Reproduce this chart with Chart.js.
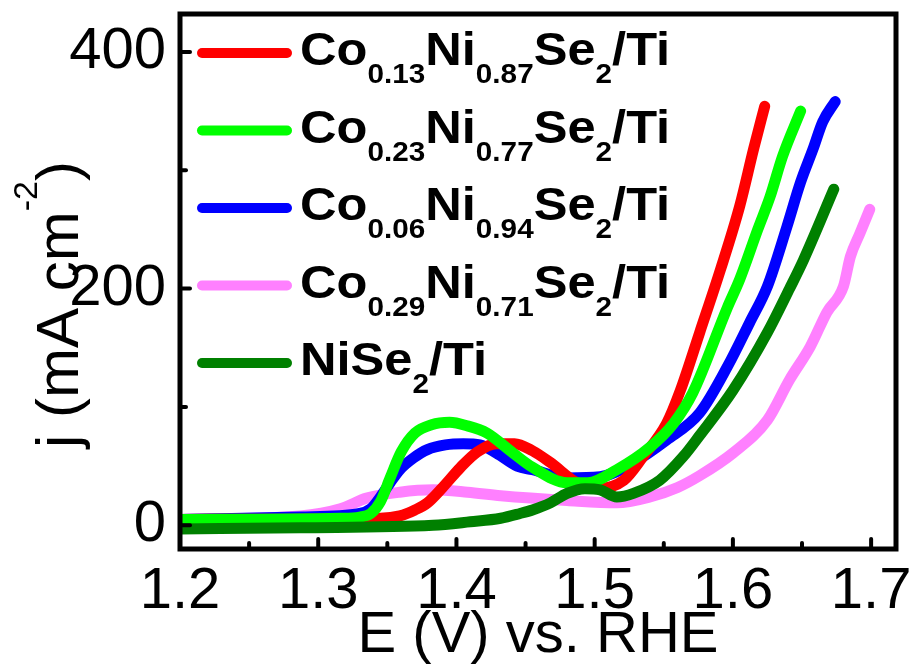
<!DOCTYPE html>
<html>
<head>
<meta charset="utf-8">
<script src="https://cdn.jsdelivr.net/npm/chart.js@4.4.1/dist/chart.umd.min.js"></script>
<style>
  html, body { margin: 0; padding: 0; background: #fff; }
  #wrap { width: 915px; height: 666px; }
</style>
</head>
<body>
<div id="wrap"><canvas id="lsv" width="915" height="666"></canvas></div>
<script>
const FONT = "'Liberation Sans', Arial, sans-serif";

// series names (legend), colours
const seriesNames = ['Co0.13Ni0.87Se2/Ti', 'Co0.23Ni0.77Se2/Ti', 'Co0.06Ni0.94Se2/Ti', 'Co0.29Ni0.71Se2/Ti', 'NiSe2/Ti'];
const seriesColors = ['#ff0000', '#00ff00', '#0000ff', '#ff80ff', '#008000'];

// E (V vs RHE) and j (mA cm-2)
const eRed = [1.2, 1.345, 1.359, 1.370, 1.379, 1.390, 1.403, 1.415, 1.429, 1.442, 1.455, 1.468, 1.487, 1.502, 1.521, 1.535, 1.552, 1.562, 1.576, 1.591, 1.605, 1.615, 1.623];
const jRed = [5, 6, 8, 13, 19, 32, 49, 62, 69, 69, 63, 53, 36, 31, 38, 58, 86, 114, 163, 216, 270, 318, 354];

const eLime = [1.2, 1.316, 1.330, 1.338, 1.345, 1.352, 1.360, 1.370, 1.382, 1.395, 1.408, 1.422, 1.441, 1.455, 1.480, 1.495, 1.516, 1.540, 1.557, 1.571, 1.596, 1.605, 1.618, 1.627, 1.636, 1.649];
const jLime = [5, 6, 7, 10, 20, 40, 62, 78, 85, 87, 84, 78, 61, 49, 36, 36, 47, 66, 86, 112, 184, 208, 250, 278, 312, 350];

const eBlue = [1.2, 1.287, 1.330, 1.338, 1.345, 1.352, 1.359, 1.369, 1.379, 1.392, 1.405, 1.417, 1.429, 1.444, 1.455, 1.480, 1.504, 1.528, 1.552, 1.576, 1.596, 1.612, 1.625, 1.639, 1.649, 1.658, 1.665, 1.674];
const jBlue = [5, 7, 10, 14, 24, 36, 47, 57, 64, 68, 69, 68, 61, 50, 47, 40, 41, 53, 72, 95, 134, 171, 202, 252, 290, 318, 341, 358];

const ePink = [1.2, 1.287, 1.316, 1.335, 1.359, 1.383, 1.408, 1.432, 1.480, 1.516, 1.540, 1.560, 1.576, 1.600, 1.625, 1.641, 1.656, 1.668, 1.680, 1.685, 1.692, 1.699];
const jPink = [5, 8, 14, 23, 28, 30, 28, 25, 21, 19, 24, 32, 42, 61, 89, 123, 151, 180, 202, 227, 247, 267];

const eDark = [1.2, 1.287, 1.383, 1.410, 1.432, 1.446, 1.455, 1.468, 1.480, 1.493, 1.504, 1.516, 1.528, 1.547, 1.564, 1.576, 1.600, 1.625, 1.641, 1.651, 1.673];
const jDark = [-3, -2, 0, 3, 6, 10, 13, 19, 27, 31, 30, 24, 27, 38, 58, 76, 114, 163, 200, 224, 284];

// axes
const xMajorTicks = [1.2, 1.3, 1.4, 1.5, 1.6, 1.7];
const xMinorTicks = [1.25, 1.35, 1.45, 1.55, 1.65];
const yMajorTicks = [0, 200, 400];
const yMinorTicks = [100, 300];

const seriesE = [eRed, eLime, eBlue, ePink, eDark];
const seriesJ = [jRed, jLime, jBlue, jPink, jDark];
const drawOrder = [2, 1, 3, 4, 0]; // lower = drawn on top

const datasets = seriesNames.map((name, i) => ({
  label: name,
  data: seriesE[i].map((e, k) => ({ x: e, y: seriesJ[i][k] })),
  borderColor: seriesColors[i],
  backgroundColor: seriesColors[i],
  borderWidth: 11,
  borderCapStyle: 'round',
  borderJoinStyle: 'round',
  pointRadius: 0,
  cubicInterpolationMode: 'monotone',
  order: drawOrder[i]
}));

// frame, inward ticks, axis titles and legend with subscripts
const decorations = {
  id: 'decorations',
  afterDraw(chart) {
    const { ctx, chartArea: a, scales: { x, y } } = chart;
    ctx.save();
    ctx.strokeStyle = '#000';
    ctx.lineCap = 'round';
    ctx.lineWidth = 4;
    const tick = (px, py, dx, dy) => {
      ctx.beginPath(); ctx.moveTo(px, py); ctx.lineTo(px + dx, py + dy); ctx.stroke();
    };
    xMajorTicks.forEach(v => tick(x.getPixelForValue(v), a.bottom, 0, -10));
    xMinorTicks.forEach(v => tick(x.getPixelForValue(v), a.bottom, 0, -6));
    yMajorTicks.forEach(v => tick(a.left, y.getPixelForValue(v), 10, 0));
    yMinorTicks.forEach(v => tick(a.left, y.getPixelForValue(v), 6, 0));

    ctx.lineCap = 'butt';
    ctx.lineWidth = 5;
    ctx.strokeRect(a.left, a.top, a.right - a.left, a.bottom - a.top);

    // legend
    chart.data.datasets.forEach((ds, i) => {
      const yy = a.top + 39 + i * 77.5;
      ctx.save();
      ctx.strokeStyle = ds.borderColor;
      ctx.lineWidth = 10;
      ctx.lineCap = 'round';
      ctx.beginPath();
      ctx.moveTo(a.left + 22, yy);
      ctx.lineTo(a.left + 107, yy);
      ctx.stroke();
      ctx.translate(a.left + 120, yy + 12);
      ctx.scale(1.1, 1);
      ctx.fillStyle = '#000';
      ctx.textBaseline = 'alphabetic';
      let cx = 0;
      ds.label.split(/(\d+(?:\.\d+)?)/).forEach((part, k) => {
        if (!part) return;
        const sub = k % 2 === 1;
        ctx.font = sub ? 'bold 27px ' + FONT : 'bold 46px ' + FONT;
        ctx.fillText(part, cx, sub ? 18 : 0);
        cx += ctx.measureText(part).width;
      });
      ctx.restore();
    });

    // x title
    ctx.fillStyle = '#000';
    ctx.font = '58px ' + FONT;
    ctx.textAlign = 'center';
    ctx.textBaseline = 'alphabetic';
    ctx.fillText('E (V) vs. RHE', (a.left + a.right) / 2, 652);

    // y title with superscript
    const parts = [['j (mA cm', 60, 0], ['-2', 34, -41], [')', 60, 0]];
    let total = 0;
    parts.forEach(p => { ctx.font = p[1] + 'px ' + FONT; total += ctx.measureText(p[0]).width; });
    ctx.translate(78, (a.top + a.bottom) / 2 + 23);
    ctx.rotate(-Math.PI / 2);
    ctx.textAlign = 'left';
    let tx = -total / 2;
    parts.forEach(p => {
      ctx.font = p[1] + 'px ' + FONT;
      ctx.fillText(p[0], tx, p[2]);
      tx += ctx.measureText(p[0]).width;
    });
    ctx.restore();
  }
};

new Chart(document.getElementById('lsv'), {
  type: 'line',
  data: { datasets },
  options: {
    responsive: false,
    devicePixelRatio: 1,
    animation: false,
    layout: { padding: { left: 0, top: 14, right: 19, bottom: 0 } },
    plugins: { legend: { display: false }, tooltip: { enabled: false } },
    scales: {
      x: {
        type: 'linear',
        min: 1.2,
        max: 1.718,
        grid: { display: false, drawTicks: false },
        border: { display: false },
        afterBuildTicks: s => { s.ticks = xMajorTicks.map(v => ({ value: v })); },
        afterFit: s => { s.height = 117; s.paddingLeft = 0; s.paddingRight = 0; },
        ticks: {
          autoSkip: false,
          maxRotation: 0,
          padding: 8,
          color: '#000',
          font: { family: FONT, size: 58 },
          callback: v => v.toFixed(1)
        }
      },
      y: {
        type: 'linear',
        min: -20,
        max: 432,
        grid: { display: false, drawTicks: false },
        border: { display: false },
        afterBuildTicks: s => { s.ticks = yMajorTicks.map(v => ({ value: v })); },
        afterFit: s => { s.width = 180; s.paddingTop = 0; s.paddingBottom = 0; },
        ticks: {
          padding: 14,
          color: '#000',
          font: { family: FONT, size: 58 },
          callback: v => String(v)
        }
      }
    }
  },
  plugins: [decorations]
});
</script>
</body>
</html>
